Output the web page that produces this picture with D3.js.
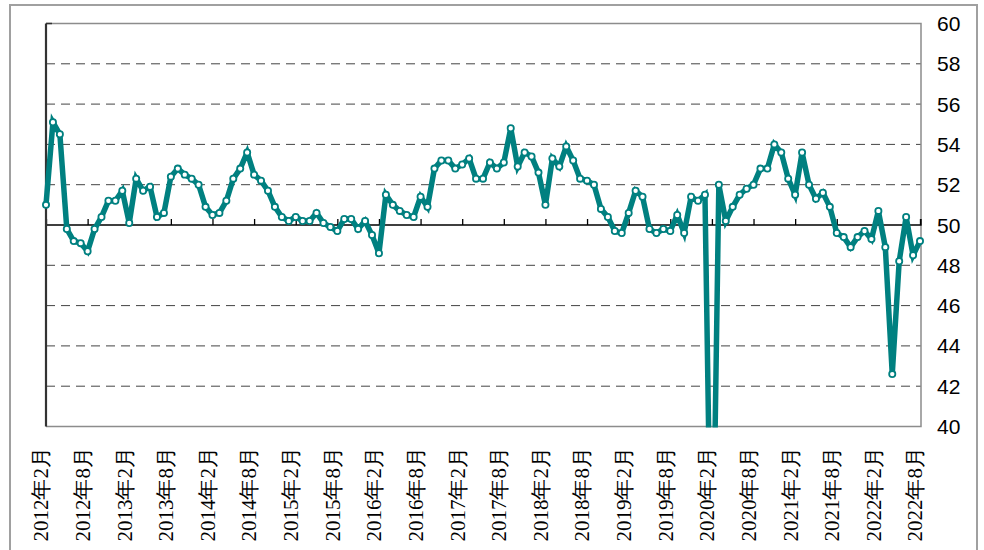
<!DOCTYPE html>
<html>
<head>
<meta charset="utf-8">
<script src="https://cdn.jsdelivr.net/npm/d3@7"></script>
<style>
  body { margin: 0; background: #fff; }
  svg { display: block; }
</style>
</head>
<body>
<script>
// monthly index, 2012年2月 .. 2022年8月
var startYear = 2012, startMonth = 2;

var values = [
  51.0, 55.1, 54.5, 49.8, 49.2, 49.1, 48.7, 49.8, 50.4, 51.2, 51.2, 51.7,
  50.1, 52.3, 51.7, 51.9, 50.4, 50.6, 52.4, 52.8, 52.5, 52.3, 52.0, 50.9,
  50.5, 50.6, 51.2, 52.3, 52.8, 53.6, 52.5, 52.2, 51.7, 50.9, 50.4, 50.2,
  50.4, 50.2, 50.2, 50.6, 50.1, 49.9, 49.7, 50.3, 50.3, 49.8, 50.2, 49.5,
  48.6, 51.5, 51.0, 50.7, 50.5, 50.4, 51.4, 50.9, 52.8, 53.2, 53.2, 52.8,
  53.0, 53.3, 52.3, 52.3, 53.1, 52.8, 53.1, 54.8, 52.9, 53.6, 53.4, 52.6,
  51.0, 53.3, 52.9, 53.9, 53.2, 52.3, 52.2, 52.0, 50.8, 50.4, 49.7, 49.6,
  50.6, 51.7, 51.4, 49.8, 49.6, 49.8, 49.7, 50.5, 49.6, 51.4, 51.2, 51.5,
  29.3, 52.0, 50.2, 50.9, 51.5, 51.8, 52.0, 52.8, 52.8, 54.0, 53.6, 52.3,
  51.5, 53.6, 52.0, 51.3, 51.6, 50.9, 49.6, 49.4, 48.9, 49.4, 49.7, 49.3,
  50.7, 48.9, 42.6, 48.2, 50.4, 48.5, 49.2
];

var tickLabels = [
  "2012年2月", "2012年8月", "2013年2月", "2013年8月", "2014年2月", "2014年8月",
  "2015年2月", "2015年8月", "2016年2月", "2016年8月", "2017年2月", "2017年8月",
  "2018年2月", "2018年8月", "2019年2月", "2019年8月", "2020年2月", "2020年8月",
  "2021年2月", "2021年8月", "2022年2月", "2022年8月"
];

var yTicks = [40, 42, 44, 46, 48, 50, 52, 54, 56, 58, 60];

var months = values.map(function(v, i) {
  var m = startMonth - 1 + i;
  return (startYear + Math.floor(m / 12)) + "年" + (m % 12 + 1) + "月";
});
var data = months.map(function(m, i) { return {month: m, value: values[i]}; });

var w = 984, h = 550;
var pLeft = 46, pRight = 921, pTop = 23.5, pBottom = 426.5;
var teal = "#008080";

var x = d3.scalePoint().domain(months).range([pLeft, pRight - 1]);
var y = d3.scaleLinear().domain([40, 60]).range([pBottom, pTop]);

var svg = d3.select("body").append("svg")
            .attr("width", w)
            .attr("height", h);

// outer frame
svg.append("rect")
   .attr("x", 10).attr("y", 5)
   .attr("width", 967).attr("height", 560)
   .attr("fill", "none")
   .attr("stroke", "#a0a0a0")
   .attr("stroke-width", 2);

svg.append("defs").append("clipPath").attr("id", "plot")
   .append("rect")
   .attr("x", pLeft - 8).attr("y", pTop - 8)
   .attr("width", pRight - pLeft + 16).attr("height", pBottom - pTop + 9);

// dashed grid
svg.append("g")
   .selectAll("line")
   .data(yTicks.filter(function(t) { return t != 40 && t != 50 && t != 60; }))
   .enter().append("line")
   .attr("x1", pLeft).attr("x2", pRight)
   .attr("y1", function(d) { return y(d); })
   .attr("y2", function(d) { return y(d); })
   .attr("stroke", "#444")
   .attr("stroke-width", 1)
   .attr("stroke-dasharray", "9,6");

// plot frame: top, right, bottom
svg.append("path")
   .attr("d", "M" + pLeft + "," + pTop + "H" + pRight + "V" + pBottom + "H" + pLeft)
   .attr("fill", "none")
   .attr("stroke", "#8c8c8c")
   .attr("stroke-width", 1.5);

// category axis sits on 50
var xAxis = d3.axisTop(x)
              .tickValues(months.filter(function(m, i) { return i % 6 == 0; }))
              .tickSize(6)
              .tickFormat("");
svg.append("g")
   .attr("transform", "translate(0," + y(50) + ")")
   .call(xAxis)
   .call(function(g) {
     g.select(".domain").attr("d", "M" + pLeft + ",-6V0H" + pRight + "V-6").attr("stroke", "#000").attr("stroke-width", 1.3);
     g.selectAll(".tick line").attr("stroke", "#000").attr("stroke-width", 1.3);
   });

// left axis line
svg.append("line")
   .attr("x1", pLeft).attr("x2", pLeft)
   .attr("y1", pTop).attr("y2", pBottom)
   .attr("stroke", "#333")
   .attr("stroke-width", 2.2);
svg.append("line")
   .attr("x1", pLeft).attr("x2", pLeft + 6)
   .attr("y1", pTop).attr("y2", pTop)
   .attr("stroke", "#333")
   .attr("stroke-width", 1.5);

// y labels on the right
svg.append("g")
   .selectAll("text")
   .data(yTicks)
   .enter().append("text")
   .attr("x", 937)
   .attr("y", function(d) { return y(d); })
   .attr("dy", "0.36em")
   .attr("font-family", "'Liberation Sans', Arial, sans-serif")
   .attr("font-size", 21)
   .attr("fill", "#000")
   .text(function(d) { return d; });

// rotated x labels
svg.append("g")
   .selectAll("text")
   .data(tickLabels)
   .enter().append("text")
   .attr("transform", function(d, i) {
     return "translate(" + (x(months[i * 6]) - 5) + ",447) rotate(-90)";
   })
   .attr("text-anchor", "end")
   .attr("dy", "0.35em")
   .style("font-family", "'Liberation Serif', 'DejaVu Serif', serif")
   .style("font-size", "21px")
   .attr("fill", "#000")
   .text(function(d) { return d; });

// series
var line = d3.line()
             .x(function(d) { return x(d.month); })
             .y(function(d) { return y(d.value); });

var g = svg.append("g").attr("clip-path", "url(#plot)");

g.append("path")
 .datum(data)
 .attr("d", line)
 .attr("fill", "none")
 .attr("stroke", teal)
 .attr("stroke-width", 5.5);

g.selectAll("circle")
 .data(data.filter(function(d) { return d.value >= 40; }))
 .enter().append("circle")
 .attr("cx", function(d) { return x(d.month); })
 .attr("cy", function(d) { return y(d.value); })
 .attr("r", 3.1)
 .attr("fill", "#fff")
 .attr("stroke", teal)
 .attr("stroke-width", 1.8);
</script>
</body>
</html>
